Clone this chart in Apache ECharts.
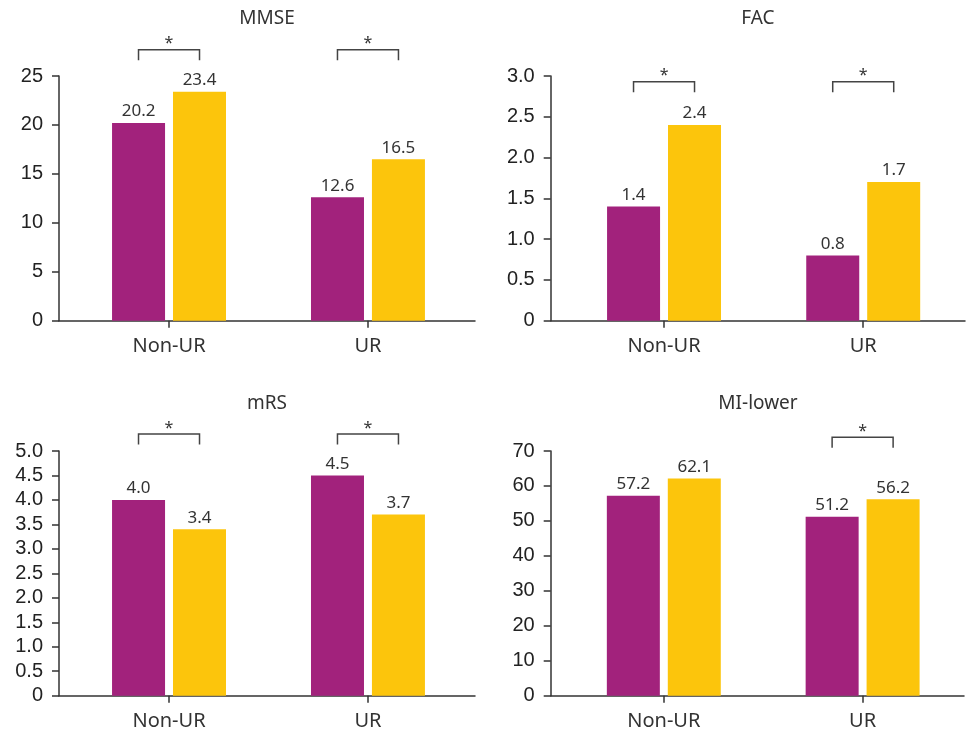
<!DOCTYPE html>
<html>
<head>
<meta charset="utf-8">
<script src="https://cdn.jsdelivr.net/npm/echarts@6/dist/echarts.min.js"></script>
<style>
html,body{margin:0;padding:0;background:#fff;}
#chart{width:971px;height:733px;}
</style>
</head>
<body>
<div id="chart"></div>
<script>
// ---- data ----
const categories = ['Non-UR', 'UR'];
const panelTitles = ['MMSE', 'FAC', 'mRS', 'MI-lower'];
const purpleValues = {
  MMSE: [20.2, 12.6],
  FAC: [1.4, 0.8],
  mRS: [4.0, 4.5],
  'MI-lower': [57.2, 51.2]
};
const yellowValues = {
  MMSE: [23.4, 16.5],
  FAC: [2.4, 1.7],
  mRS: [3.4, 3.7],
  'MI-lower': [62.1, 56.2]
};
const significant = {
  MMSE: [true, true],
  FAC: [true, true],
  mRS: [true, true],
  'MI-lower': [false, true]
};
const yMax = { MMSE: 25, FAC: 3, mRS: 5, 'MI-lower': 70 };
const yInterval = { MMSE: 5, FAC: 0.5, mRS: 0.5, 'MI-lower': 10 };
const yDecimals = { MMSE: 0, FAC: 1, mRS: 1, 'MI-lower': 0 };

// ---- layout ----
const layout = [
  { left: 59, right: 496, top: 76, bottom: 412.3, xMin: -0.553, xMax: 1.538, titleX: 267, titleY: 9, bracketY: 49.7 },
  { left: 550.7, right: 6, top: 76, bottom: 412.3, xMin: -0.569, xMax: 1.511, titleX: 758, titleY: 9, bracketY: 81.7 },
  { left: 59, right: 496, top: 451, bottom: 37.3, xMin: -0.553, xMax: 1.538, titleX: 267, titleY: 394, bracketY: 434 },
  { left: 550.7, right: 7, top: 451, bottom: 37.3, xMin: -0.569, xMax: 1.51, titleX: 758, titleY: 394, bracketY: 437.3 }
];
const PURPLE = '#A2227C';
const YELLOW = '#FCC50C';
const AXIS = '#333333';
const BAR_W = 53;
const HALF = 30.5;

const chart = echarts.init(document.getElementById('chart'), null, { renderer: 'canvas' });

const grid = [], xAxis = [], yAxis = [], series = [], title = [];
panelTitles.forEach((name, i) => {
  const L = layout[i];
  grid.push({ left: L.left, right: L.right, top: L.top, bottom: L.bottom, containLabel: false });
  title.push({
    text: name, left: L.titleX, top: L.titleY, textAlign: 'center', padding: 0,
    textStyle: { fontFamily: 'Noto Sans', fontSize: 19, fontWeight: 'normal', color: '#333' }
  });
  xAxis.push({
    type: 'value', gridIndex: i, min: L.xMin, max: L.xMax,
    splitLine: { show: false },
    axisLine: { show: true, onZero: false, lineStyle: { color: AXIS, width: 1.5 } },
    axisTick: { show: true, length: 7, customValues: [0, 1], lineStyle: { color: AXIS, width: 1.5 } },
    axisLabel: {
      customValues: [0, 1], margin: 16,
      formatter: v => categories[Math.round(v)] || '',
      fontFamily: 'Noto Sans', fontSize: 20, color: '#333'
    }
  });
  yAxis.push({
    type: 'value', gridIndex: i, min: 0, max: yMax[name], interval: yInterval[name],
    splitLine: { show: false },
    axisLine: { show: true, onZero: false, lineStyle: { color: AXIS, width: 1.5 } },
    axisTick: { show: true, length: 7, lineStyle: { color: AXIS, width: 1.5 } },
    axisLabel: {
      margin: 16,
      formatter: v => v === 0 ? '0' : v.toFixed(yDecimals[name]),
      fontFamily: 'Liberation Sans', fontSize: 20, color: '#222'
    }
  });
  const mkBar = (vals, color) => ({
    type: 'bar', xAxisIndex: i, yAxisIndex: i,
    data: vals.map((v, k) => [k, v]),
    barWidth: BAR_W, barGap: '15%',
    itemStyle: { color: color },
    label: {
      show: true, position: 'top', distance: 3,
      formatter: p => p.value[1].toFixed(1),
      fontFamily: 'Noto Sans', fontSize: 17, color: '#333'
    },
    emphasis: { disabled: true },
    animation: false
  });
  series.push(mkBar(purpleValues[name], PURPLE));
  series.push(mkBar(yellowValues[name], YELLOW));
  const sigData = [];
  significant[name].forEach((s, k) => { if (s) sigData.push([k, 0]); });
  series.push({
    type: 'custom', xAxisIndex: i, yAxisIndex: i, clip: false, animation: false,
    data: sigData,
    renderItem: (params, api) => {
      const c = api.coord([api.value(0), 0]);
      const x1 = c[0] - HALF, x2 = c[0] + HALF;
      const y = L.bracketY, yb = y + 10.5;
      return {
        type: 'group',
        children: [
          { type: 'polyline', shape: { points: [[x1, yb], [x1, y], [x2, y], [x2, yb]] },
            style: { stroke: '#444', lineWidth: 1.5, fill: null } },
          { type: 'text', style: { text: '*', x: c[0], y: y - 6, textAlign: 'center', textVerticalAlign: 'middle',
            fontFamily: 'Noto Sans', fontSize: 16, fill: '#333' } }
        ]
      };
    }
  });
});

chart.setOption({ animation: false, title, grid, xAxis, yAxis, series });
</script>
</body>
</html>
